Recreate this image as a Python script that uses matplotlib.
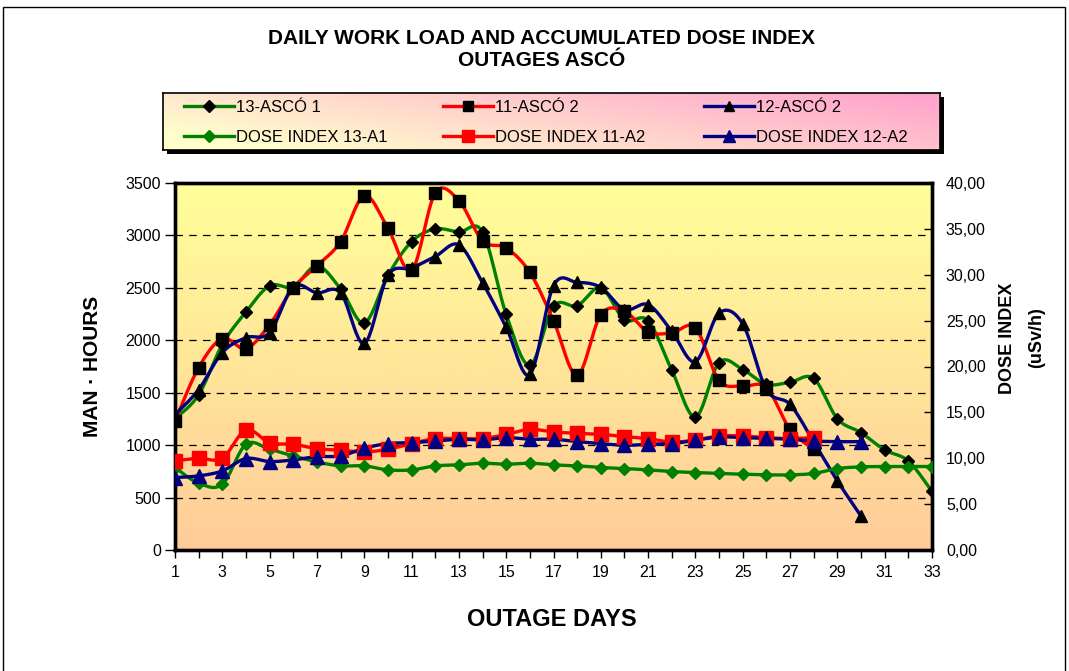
import numpy as np
import matplotlib
matplotlib.use("Agg")
import matplotlib.pyplot as plt
from matplotlib.lines import Line2D
from matplotlib.patches import Rectangle

plt.rcParams['font.family'] = ['Liberation Sans', 'DejaVu Sans']

# ---------------- data ----------------
days_13 = list(range(1, 34))
days_11 = list(range(1, 29))
days_12 = list(range(1, 31))

work_13 = [1250, 1480, 1960, 2270, 2520, 2510, 2710, 2490, 2165, 2618, 2940, 3062,
           3033, 3033, 2247, 1762, 2324, 2330, 2501, 2197, 2187, 1715, 1268, 1788,
           1721, 1580, 1600, 1636, 1252, 1119, 954, 849, 558]
work_11 = [1230, 1740, 2016, 1921, 2150, 2500, 2710, 2940, 3378, 3070, 2666, 3404,
           3332, 2948, 2881, 2647, 2187, 1667, 2244, 2276, 2080, 2070, 2118, 1617,
           1563, 1550, 1150, 960]
work_12 = [1290, 1530, 1883, 2025, 2073, 2510, 2453, 2453, 1970, 2618, 2690, 2799,
           2910, 2549, 2124, 1674, 2520, 2552, 2504, 2292, 2340, 2086, 1797, 2260,
           2156, 1531, 1388, 1030, 659, 323]

dose_13 = [8.99, 7.28, 7.17, 11.52, 10.98, 10.25, 9.60, 9.17, 9.17, 8.73, 8.73, 9.17,
           9.28, 9.46, 9.35, 9.46, 9.28, 9.17, 8.99, 8.88, 8.73, 8.55, 8.44, 8.34,
           8.26, 8.19, 8.19, 8.34, 8.88, 9.06, 9.10, 9.10, 9.10]
dose_11 = [9.71, 10.00, 10.00, 13.08, 11.70, 11.52, 11.05, 10.87, 10.69, 10.98, 11.60,
           12.14, 12.14, 12.14, 12.60, 13.15, 12.86, 12.72, 12.61, 12.36, 12.14, 11.77,
           11.99, 12.43, 12.43, 12.25, 12.14, 12.25]
dose_12 = [7.90, 8.08, 8.62, 9.97, 9.64, 9.82, 10.18, 10.25, 11.09, 11.60, 11.70, 11.88,
           12.07, 12.00, 12.25, 12.07, 12.07, 11.81, 11.60, 11.41, 11.52, 11.60, 11.96,
           12.32, 12.25, 12.17, 12.07, 11.88, 11.81, 11.81]

labels_work = ['13-ASCÓ 1', '11-ASCÓ 2', '12-ASCÓ 2']
labels_dose = ['DOSE INDEX 13-A1', 'DOSE INDEX 11-A2', 'DOSE INDEX 12-A2']
left_ticks = list(range(0, 3501, 500))
right_ticks = list(range(0, 41, 5))
x_ticklabels = list(range(1, 34, 2))

GREEN = '#008000'
RED = '#FF0000'
NAVY = '#000080'

W, H = 1069, 671


def smooth(x, y, n=24):
    pts = np.column_stack([np.asarray(x, float), np.asarray(y, float)])
    P = np.vstack([pts[0], pts, pts[-1]])
    out = []
    t = np.linspace(0, 1, n, endpoint=False)[:, None]
    for i in range(1, len(P) - 2):
        p0, p1, p2, p3 = P[i - 1], P[i], P[i + 1], P[i + 2]
        c1 = p1 + (p2 - p0) / 6.0
        c2 = p2 - (p3 - p1) / 6.0
        seg = ((1 - t) ** 3) * p1 + 3 * ((1 - t) ** 2) * t * c1 + 3 * (1 - t) * t ** 2 * c2 + t ** 3 * p2
        out.append(seg)
    out.append(pts[-1:])
    s = np.vstack(out)
    return s[:, 0], s[:, 1]


fig = plt.figure(figsize=(W / 100, H / 100), dpi=100)
fig.patch.set_facecolor('white')

# figure frame
fig.add_artist(Rectangle((3 / W, -0.02), (1065 - 3) / W, 1.02 - 7 / H,
                         transform=fig.transFigure, fill=False, edgecolor='black', lw=1.0))

# title
fig.text(542 / W, 1 - 38 / H, 'DAILY WORK LOAD AND ACCUMULATED DOSE INDEX',
         ha='center', va='center', fontsize=15, fontweight='bold')
fig.text(542 / W, 1 - 61 / H, 'OUTAGES ASCÓ', ha='center', va='center',
         fontsize=15, fontweight='bold')

# main axes
l, r, t, b = 175, 932, 183, 550
ax = fig.add_axes([l / W, 1 - b / H, (r - l) / W, (b - t) / H])
ax.set_xlim(1, 33)
ax.set_ylim(0, 3500)

grad = np.linspace(0, 1, 256)[:, None]
top = np.array([255, 255, 153]) / 255
bot = np.array([255, 204, 153]) / 255
img = top[None, None, :] * (1 - grad[:, :, None]) + bot[None, None, :] * grad[:, :, None]
ax.imshow(img, extent=(1, 33, 0, 3500), aspect='auto', origin='upper', zorder=0)

for v in left_ticks[1:-1]:
    ax.axhline(v, color='black', lw=0.9, ls=(0, (6, 5)), zorder=1)

for days, vals, col, mk, ms in [(days_13, work_13, GREEN, 'D', 6.5),
                                (days_11, work_11, RED, 's', 8),
                                (days_12, work_12, NAVY, '^', 8)]:
    sx, sy = smooth(days, vals)
    ax.plot(sx, sy, color=col, lw=2.4, zorder=3, solid_capstyle='round')
    ax.plot(days, vals, ls='none', marker=mk, ms=ms, color='black', zorder=4)

ax.set_yticks(left_ticks)
ax.set_yticklabels([str(v) for v in left_ticks], fontsize=11.5)
ax.set_xticks(list(range(1, 34)))
ax.set_xticklabels([str(d) if d % 2 == 1 else '' for d in range(1, 34)], fontsize=11.5)
ax.tick_params(axis='y', direction='out', length=7, width=1, pad=3)
ax.tick_params(axis='x', direction='out', length=6, width=1, pad=5)
for s in ax.spines.values():
    s.set_linewidth(2.4)
    s.set_color('black')

ax2 = ax.twinx()
ax2.set_ylim(0, 40)
ax2.patch.set_visible(False)
for days, vals, col, mk, ms in [(days_13, dose_13, GREEN, 'D', 6),
                                (days_11, dose_11, RED, 's', 10),
                                (days_12, dose_12, NAVY, '^', 9.5)]:
    sx, sy = smooth(days, vals)
    ax2.plot(sx, sy, color=col, lw=2.4, zorder=3)
    ax2.plot(days, vals, ls='none', marker=mk, ms=ms, color=col, zorder=4)
ax2.set_yticks(right_ticks)
ax2.set_yticklabels([f'{v:.2f}'.replace('.', ',') for v in right_ticks], fontsize=11.5)
ax2.tick_params(axis='y', direction='in', length=6, width=1, pad=10)
for s in ax2.spines.values():
    s.set_linewidth(2.4)
    s.set_color('black')

# axis labels
fig.text(552 / W, 1 - 620 / H, 'OUTAGE DAYS', ha='center', va='center',
         fontsize=17, fontweight='bold')
fig.text(93 / W, 1 - 366 / H, 'MAN · HOURS', ha='center', va='center',
         rotation=90, fontsize=15, fontweight='bold')
fig.text(1008 / W, 1 - 338 / H, 'DOSE INDEX', ha='center', va='center',
         rotation=90, fontsize=13, fontweight='bold')
fig.text(1037 / W, 1 - 338 / H, '(uSv/h)', ha='center', va='center',
         rotation=90, fontsize=13, fontweight='bold')

# legend (custom box with gradient and shadow)
lx0, lx1, ly0, ly1 = 163, 940, 93, 150
shadow = Rectangle(((lx0 + 4) / W, 1 - (ly1 + 4) / H), (lx1 - lx0) / W, (ly1 - ly0) / H,
                   transform=fig.transFigure, facecolor='black', edgecolor='none')
shadow.set_zorder(-5)
fig.add_artist(shadow)
lax = fig.add_axes([lx0 / W, 1 - ly1 / H, (lx1 - lx0) / W, (ly1 - ly0) / H])
lax.set_zorder(2)
lax.set_xlim(lx0, lx1)
lax.set_ylim(ly1, ly0)
gx = np.linspace(0, 1, 300)[None, :]
gy = np.linspace(0, 1, 60)[:, None]
mix = np.clip(0.75 * gx + 0.35 * (1 - gy) - 0.1, 0, 1)
c_a = np.array([255, 255, 204]) / 255
c_b = np.array([255, 160, 205]) / 255
limg = c_a[None, None, :] * (1 - mix[:, :, None]) + c_b[None, None, :] * mix[:, :, None]
lax.imshow(limg, extent=(lx0, lx1, ly1, ly0), aspect='auto', origin='upper', zorder=0)
lax.set_xticks([])
lax.set_yticks([])
for s in lax.spines.values():
    s.set_linewidth(1.2)
    s.set_color('black')

cols = [(GREEN, 'D'), (RED, 's'), (NAVY, '^')]
col_x = [184, 443, 704]
for i, (col, mk) in enumerate(cols):
    x0 = col_x[i]
    # workload entry
    lax.add_line(Line2D([x0, x0 + 50], [106, 106], color=col, lw=2.4))
    lax.add_line(Line2D([x0 + 25], [106], marker=mk, ms=7 if mk != 'D' else 6.5,
                        color='black', ls='none'))
    lax.text(x0 + 52, 107, labels_work[i], va='center', ha='left', fontsize=12)
    # dose entry
    lax.add_line(Line2D([x0, x0 + 50], [136, 136], color=col, lw=2.4))
    lax.add_line(Line2D([x0 + 25], [136], marker=mk, ms=9 if mk != 'D' else 6,
                        color=col, ls='none'))
    lax.text(x0 + 52, 137, labels_dose[i], va='center', ha='left', fontsize=12)

fig.savefig('out.png', dpi=100)
